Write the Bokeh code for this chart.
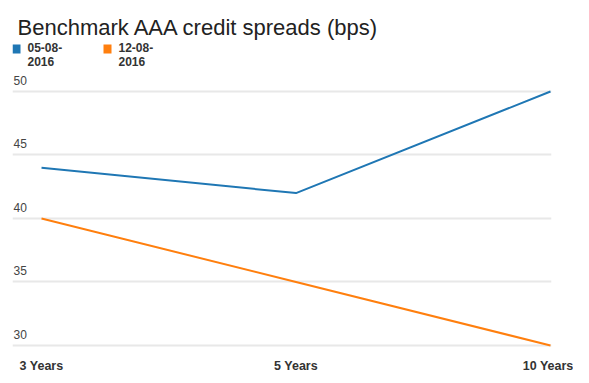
from bokeh.plotting import figure
from bokeh.models import Range1d, FixedTicker, Label, BoxAnnotation, ColumnDataSource
from bokeh.core.properties import value
from bokeh.embed import file_html
from bokeh.resources import INLINE

# ---- data ----
categories = ["3 Years", "5 Years", "10 Years"]
series_names = ["05-08-\n2016", "12-08-\n2016"]
series_a = [44, 42, 50]   # 05-08-2016
series_b = [40, 35, 30]   # 12-08-2016
y_ticks = [30, 35, 40, 45, 50]
colors = ["#1f77b4", "#ff7f0e"]
title_text = "Benchmark AAA credit spreads (bps)"

xs = list(range(len(categories)))
x_start, x_end = -0.114, 2.004
y_start, y_end = 29.606, 57.165

p = figure(width=573, height=380, output_backend="svg", toolbar_location=None,
           x_range=Range1d(x_start, x_end), y_range=Range1d(y_start, y_end),
           y_axis_location=None, min_border_left=12, min_border_right=22,
           min_border_top=0, min_border_bottom=30)
p.outline_line_color = None
p.background_fill_color = "white"
p.border_fill_color = "white"

p.xgrid.grid_line_color = None
p.ygrid.ticker = FixedTicker(ticks=y_ticks)
p.ygrid.grid_line_color = "#e8e8e8"
p.ygrid.grid_line_width = 2

xa = p.xaxis[0]
xa.ticker = FixedTicker(ticks=xs)
xa.major_label_overrides = {i: c for i, c in enumerate(categories)}
xa.axis_line_color = None
xa.major_tick_line_color = None
xa.minor_tick_line_color = None
xa.major_tick_out = 0
xa.major_tick_in = 0
xa.major_label_standoff = 8
xa.major_label_text_font = "Liberation Sans"
xa.major_label_text_font_size = "12.5px"
xa.major_label_text_color = "#333333"
xa.major_label_text_font_style = "bold"

# y tick labels drawn inside, above gridlines
src = ColumnDataSource(dict(x=[x_start] * len(y_ticks), y=y_ticks, t=[str(v) for v in y_ticks]))
p.text(x="x", y="y", text="t", source=src, x_offset=1, y_offset=-11,
       text_baseline="alphabetic", text_align="left",
       text_font=value("Liberation Sans"), text_font_size="12px", text_color="#444444")

p.line(xs, series_a, line_color=colors[0], line_width=2)
p.line(xs, series_b, line_color=colors[1], line_width=2)

# title
p.add_layout(Label(x=5, y=323, x_units="screen", y_units="screen", text=title_text,
                   text_font="Liberation Sans", text_font_size="22px",
                   text_color="#222222", text_baseline="alphabetic"))

# legend
leg_x = [0, 91]
for i, name in enumerate(series_names):
    p.add_layout(BoxAnnotation(left=leg_x[i], right=leg_x[i] + 8, bottom=297, top=306,
                               left_units="screen", right_units="screen",
                               bottom_units="screen", top_units="screen",
                               fill_color=colors[i], fill_alpha=1, line_color=None))
    p.add_layout(Label(x=leg_x[i] + 15, y=310, x_units="screen", y_units="screen",
                       text=name, text_font="Liberation Sans", text_font_size="12px",
                       text_font_style="bold", text_color="#333333",
                       text_baseline="top", text_line_height=1.0))

open("out.html", "w").write(file_html(p, INLINE))
